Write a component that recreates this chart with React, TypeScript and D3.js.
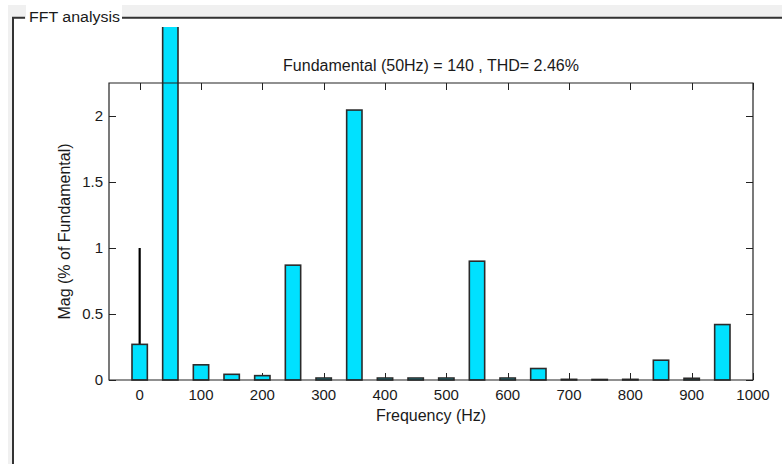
import React from 'react'
import { useEffect, useRef } from 'react'
import * as d3 from 'd3'

// harmonic frequencies (Hz) and magnitudes (% of fundamental)
const freqs = [0, 50, 100, 150, 200, 250, 300, 350, 400, 450, 500, 550, 600, 650, 700, 750, 800, 850, 900, 950]
const mags = [0.27, 100, 0.115, 0.043, 0.033, 0.87, 0.015, 2.045, 0.015, 0.015, 0.015, 0.9, 0.015, 0.087, 0.005, 0.004, 0.005, 0.15, 0.013, 0.42]
const dcStem = [1]
const xTicks = [0, 100, 200, 300, 400, 500, 600, 700, 800, 900, 1000]
const yTicks = [0, 0.5, 1, 1.5, 2]
const titleText = 'Fundamental (50Hz) = 140 , THD= 2.46%'

const App = () => {
    const svgRef = useRef<SVGSVGElement>(null)

    useEffect(() => {
        const w = 782
        const h = 464
        const svg = d3.select(svgRef.current)
        svg.selectAll('*').remove()
        svg.attr('width', w).attr('height', h)

        const font = 'Liberation Sans, Arial, sans-serif'
        const ink = '#1a1a1a'

        // panel background + frame
        svg.append('rect').attr('x', 0).attr('y', 0).attr('width', w).attr('height', h).attr('fill', '#fff')
        svg.append('rect').attr('x', 8).attr('y', 5).attr('width', w - 8).attr('height', h - 5).attr('fill', '#f0f0f0')
        svg.append('rect').attr('x', 14).attr('y', 19).attr('width', w - 14).attr('height', h - 19).attr('fill', '#fff')
        svg.append('rect').attr('x', 26).attr('y', 5).attr('width', 96).attr('height', 14).attr('fill', '#fff')
        svg.append('path')
            .attr('d', `M13,${h} V17.8 H25 M122,17.8 H${w}`)
            .attr('fill', 'none').attr('stroke', '#333').attr('stroke-width', 2)
        svg.append('text').attr('x', 29).attr('y', 22)
            .attr('font-family', font).attr('font-size', 15.5).attr('fill', ink)
            .attr('textLength', 91).attr('lengthAdjust', 'spacingAndGlyphs')
            .text('FFT analysis')

        // scales
        const x = d3.scaleLinear().domain([-50, 1000]).range([109, 753])
        const y = d3.scaleLinear().domain([0, 2.25]).range([380, 83])
        const barW = x(25) - x(0)
        const tickLen = 7

        // ticks (inward, drawn under the bars)
        const ticks = svg.append('g').attr('stroke', '#222').attr('stroke-width', 1)
        xTicks.forEach(t => {
            const xx = Math.round(x(t)) + 0.5
            ticks.append('line').attr('x1', xx).attr('x2', xx).attr('y1', y(0)).attr('y2', y(0) - tickLen)
            ticks.append('line').attr('x1', xx).attr('x2', xx).attr('y1', y(2.25)).attr('y2', y(2.25) + tickLen)
        })
        yTicks.forEach(t => {
            const yy = Math.round(y(t)) + 0.5
            ticks.append('line').attr('x1', x(-50)).attr('x2', x(-50) + tickLen).attr('y1', yy).attr('y2', yy)
            ticks.append('line').attr('x1', x(1000)).attr('x2', x(1000) - tickLen).attr('y1', yy).attr('y2', yy)
        })

        // DC stem behind the first bar
        svg.append('g').selectAll('line').data(dcStem).join('line')
            .attr('x1', x(0)).attr('x2', x(0))
            .attr('y1', y(0)).attr('y2', d => y(d))
            .attr('stroke', '#000').attr('stroke-width', 2.2)

        // clip for the fundamental bar running off the top
        svg.append('clipPath').attr('id', 'panelClip')
            .append('rect').attr('x', 0).attr('y', 27).attr('width', w).attr('height', h - 27)

        svg.append('g').attr('clip-path', 'url(#panelClip)')
            .selectAll('rect').data(freqs).join('rect')
            .attr('x', d => x(d) - barW / 2)
            .attr('width', barW)
            .attr('y', (d, i) => y(mags[i]))
            .attr('height', (d, i) => y(0) - y(mags[i]))
            .attr('fill', '#00e1ff')
            .attr('stroke', '#2b2b2b')
            .attr('stroke-width', 1.6)

        // axes box
        svg.append('path')
            .attr('d', `M${x(-50)},${y(2.25)} H${x(1000)} V${y(0)} H${x(-50)} Z`)
            .attr('fill', 'none').attr('stroke', '#222').attr('stroke-width', 1.2)

        // tick labels
        svg.append('g').selectAll('text').data(xTicks).join('text')
            .attr('x', d => x(d)).attr('y', y(0) + 20)
            .attr('text-anchor', 'middle')
            .attr('font-family', font).attr('font-size', 15).attr('fill', ink)
            .text(d => d)
        svg.append('g').selectAll('text').data(yTicks).join('text')
            .attr('x', x(-50) - 6).attr('y', d => y(d) + 5)
            .attr('text-anchor', 'end')
            .attr('font-family', font).attr('font-size', 15).attr('fill', ink)
            .text(d => d)

        // titles
        svg.append('text').attr('x', (x(-50) + x(1000)) / 2).attr('y', 71)
            .attr('text-anchor', 'middle')
            .attr('font-family', font).attr('font-size', 16).attr('fill', ink)
            .text(titleText)
        svg.append('text').attr('x', (x(-50) + x(1000)) / 2).attr('y', 421)
            .attr('text-anchor', 'middle')
            .attr('font-family', font).attr('font-size', 16).attr('fill', ink)
            .text('Frequency (Hz)')
        svg.append('text')
            .attr('transform', `translate(70, ${(y(0) + y(2.25)) / 2}) rotate(-90)`)
            .attr('text-anchor', 'middle')
            .attr('font-family', font).attr('font-size', 16).attr('fill', ink)
            .text('Mag (% of Fundamental)')
    }, [])

    return (
        <svg ref={svgRef} style={{ position: 'absolute', left: 0, top: 0 }}></svg>
    )
}

export default App
